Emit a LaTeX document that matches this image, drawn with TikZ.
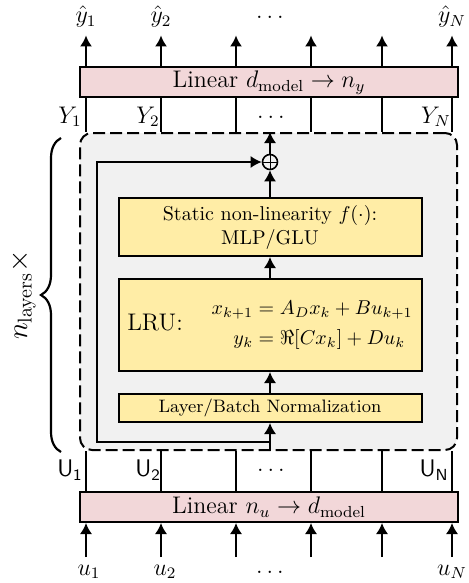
\documentclass[tikz,border=0pt]{standalone}
\usepackage{amsmath}
\usepackage{amssymb}
\usetikzlibrary{calc}
\usetikzlibrary{positioning}
\usetikzlibrary{arrows.meta}
\usetikzlibrary{decorations.pathreplacing}

\definecolor{linpink}{RGB}{242,215,217}
\definecolor{blockyellow}{RGB}{255,237,166}
\definecolor{layergray}{RGB}{241,241,241}

\begin{document}
\begin{tikzpicture}[>={Latex[width=6pt,length=5.5pt]},x=0.5pt,y=-0.5pt,
        linbox/.style={draw,line width=1pt,fill=linpink,minimum width=189pt,minimum height=15pt,inner sep=0pt,font=\large},
        blockbox/.style={draw,line width=1pt,fill=blockyellow,minimum width=151.5pt,inner sep=0pt,align=center},
        lbl/.style={inner sep=0pt}]
            \useasboundingbox (0,0) rectangle (468,583);
            % layer
            \node[draw,line width=1pt,dash pattern=on 6pt off 2.5pt,rounded corners=6pt,fill=layergray,minimum width=188.5pt,minimum height=158.5pt] (layer) at (268.5,291.5) {};
            \node[linbox] (linout) at (269,82.5) {Linear $d_{\text{model}}\to n_y$};
            \node[linbox] (linin) at (269,507) {Linear $n_u\to d_{\text{model}}$};
            \node[blockbox,minimum height=29pt] (static) at (270,227) {Static non-linearity $f(\cdot)$:\\MLP/GLU};
            \node[blockbox,minimum height=46pt] (lru) at (270,325) {\large LRU:\hspace{1.2em}\normalsize$\begin{aligned}x_{k+1}&=A_Dx_k+Bu_{k+1}\\y_k&=\Re[Cx_k]+Du_k\end{aligned}$};
            \node[blockbox,minimum height=14pt] (norm) at (270,408) {\small Layer/Batch Normalization};
            \node[circle,draw,thick,inner sep=0pt,minimum size=7.5pt] (sum) at (270,162) {};
            \draw (sum.north) -- (sum.south) (sum.west) -- (sum.east);
            \coordinate (split) at (270,442);
            \coordinate (res) at (97,442);
            % inside the layer
            \draw[thick,->] (layer.south -| split) -- (norm.south);
            \draw[thick,->] (norm.north) -- (lru.south);
            \draw[thick,->] (lru.north) -- (static.south);
            \draw[thick,->] (static.north) -- (sum.south);
            \draw[thick,->] (sum.north) -- (layer.north -| sum);
            \draw[thick,->] (split) -- (res) |- (sum.west);
            % in and out
            \foreach \x in {86,161,236,311,382,452} {
                \draw[thick,->] (linout.north -| \x,0) -- ++(0,-31);
                \draw[thick] (linout.south -| \x,0) -- (layer.north -| \x,0);
                \draw[thick] (linin.north -| \x,0) -- (layer.south -| \x,0);
                \draw[thick,->] ($(linin.south -| \x,0)+(0,34)$) -- (linin.south -| \x,0);
            }
            \foreach \x/\t in {86/\hat{y}_1,161/\hat{y}_2,272/\dots,452/\hat{y}_N}
                \node[lbl] (yhat\x) at (\x,17) {\large$\t$};
            \foreach \x/\t in {70/Y_1,148/Y_2,273/\dots,436/Y_N}
                \node[lbl] (ylab\x) at (\x,117) {\large$\t$};
            \foreach \x/\t in {70/\mathsf{U_1},148/\mathsf{U_2},273/\dots,434/\mathsf{U_N}}
                \node[lbl] (ulab\x) at (\x,470) {\large$\t$};
            \foreach \x/\t in {89/u_1,165/u_2,272/\dots,452/u_N}
                \node[lbl] (uin\x) at (\x,572) {\large$\t$};
            % layers
            \draw[line width=1.1pt,decorate,decoration={brace,amplitude=10pt}] (61,452) -- (61,138);
            \node[lbl,rotate=90] (nlay) at (23,295) {\Large$n_{\text{layers}}\times$};
        \end{tikzpicture}
\end{document}
